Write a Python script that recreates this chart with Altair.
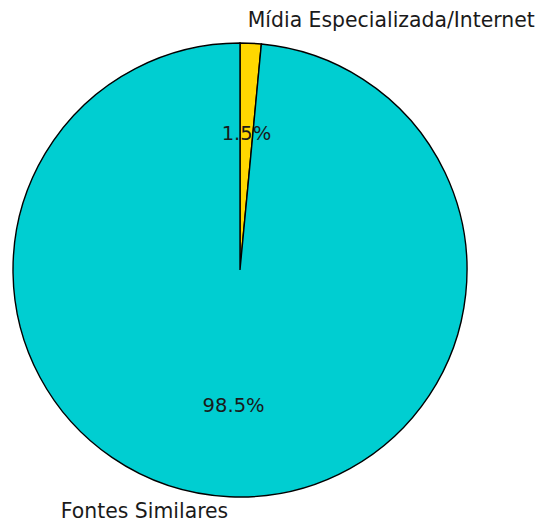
import altair as alt
import pandas as pd

categories = ["Mídia Especializada/Internet", "Fontes Similares"]
values = [1.5, 98.5]
colors = ["#FFD700", "#00CED1"]
outer_align = ["left", "right"]

df = pd.DataFrame({
    "categoria": categories,
    "valor": values,
    "ordem": list(range(len(categories))),
    "pct": [f"{v:.1f}%" for v in values],
})
df["rotuloL"] = [c if a == "left" else "" for c, a in zip(categories, outer_align)]
df["rotuloR"] = [c if a == "right" else "" for c, a in zip(categories, outer_align)]

CX, CY, R = 232, 262, 227
FONT = "DejaVu Sans"
FS = 19.5
FS_OUT = 20.4

base = alt.Chart(df).encode(
    theta=alt.Theta("valor:Q", stack=True),
    order=alt.Order("ordem:Q"),
    x=alt.value(CX),
    y=alt.value(CY),
)

arcs = base.mark_arc(stroke="black", strokeWidth=1.4, outerRadius=R).encode(
    color=alt.Color("categoria:N", scale=alt.Scale(domain=categories, range=colors), legend=None),
)

pct = base.mark_text(font=FONT, fontSize=FS, color="#1a1a1a", baseline="middle", align="center").encode(
    radius=alt.value(R * 0.6),
    text="pct:N",
)

lab_l = base.mark_text(font=FONT, fontSize=FS_OUT, color="#1a1a1a", baseline="middle",
                       align="left", dx=-4).encode(
    radius=alt.value(R * 1.1),
    text="rotuloL:N",
)
lab_r = base.mark_text(font=FONT, fontSize=FS_OUT, color="#1a1a1a", baseline="middle",
                       align="right", dy=-7).encode(
    radius=alt.value(R * 1.1),
    text="rotuloR:N",
)

chart = alt.layer(arcs, pct, lab_l, lab_r).properties(
    width=528, height=514, padding=0, autosize=alt.AutoSizeParams(type="none"),
).configure_view(stroke=None)

chart.save("out.html", embed_options={"renderer": "svg", "actions": False})
